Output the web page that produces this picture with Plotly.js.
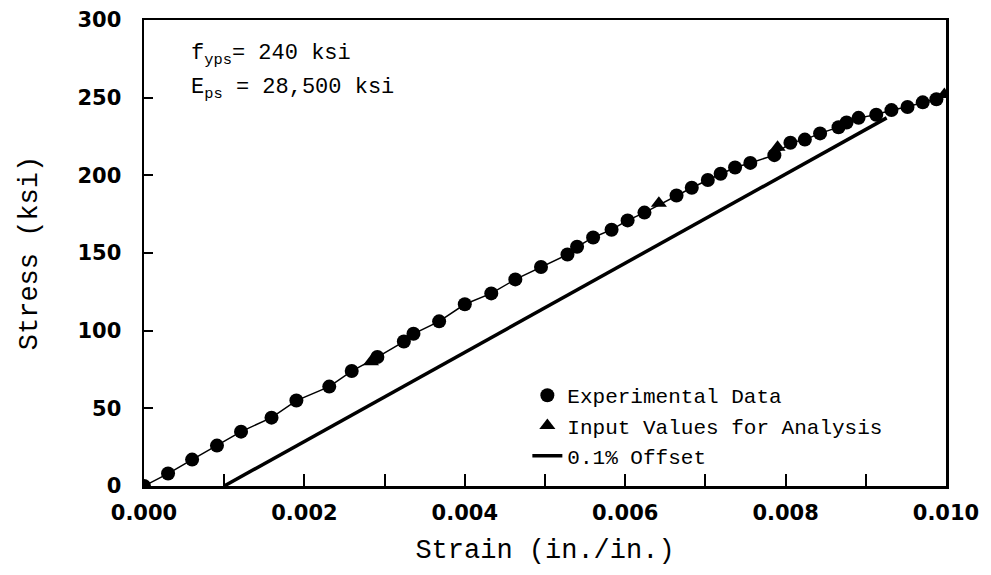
<!DOCTYPE html>
<html>
<head>
<meta charset="utf-8">
<script src="https://cdn.plot.ly/plotly-3.0.1.min.js"></script>
<style>html,body{margin:0;padding:0;background:#fff;}#chart{width:991px;height:575px;}</style>
</head>
<body>
<div id="chart"></div>
<script>
// Experimental data (strain in./in., stress ksi)
var expStrain = [0.0000, 0.00030, 0.00060, 0.00091, 0.00121, 0.00159, 0.00190, 0.00231, 0.00259, 0.00291,
  0.00324, 0.00336, 0.00368, 0.00400, 0.00433, 0.00463, 0.00495, 0.00528, 0.00540, 0.00560,
  0.00583, 0.00603, 0.00624, 0.00664, 0.00683, 0.00703, 0.00719, 0.00737, 0.00756, 0.00786,
  0.00806, 0.00824, 0.00843, 0.00866, 0.00876, 0.00891, 0.00913, 0.00932, 0.00952, 0.00971, 0.00988];
var expStress = [0, 8, 17, 26, 35, 44, 55, 64, 74, 83,
  93, 98, 106, 117, 124, 133, 141, 149, 154, 160,
  165, 171, 176, 187, 192, 197, 201, 205, 208, 213,
  221, 223, 227, 231, 234, 237, 239, 242, 244, 247, 249];
// Input values for analysis
var inputStrain = [0.00283, 0.00642, 0.00790, 0.00998];
var inputStress = [80, 182, 218, 252];
// 0.1% offset line
var offsetStrain = [0.0010, 0.00926];
var offsetStress = [0, 237];

var xTickVals = [0, 0.001, 0.002, 0.003, 0.004, 0.005, 0.006, 0.007, 0.008, 0.009, 0.010];
var xTickText = ['0.000', '', '0.002', '', '0.004', '', '0.006', '', '0.008', '', '0.010'];
var yTickVals = [0, 50, 100, 150, 200, 250, 300];

var textFont = 'Liberation Mono';
var tickFont = {family: 'DejaVu Sans', size: 21, color: '#000', weight: 'bold'};

var traces = [
  {x: expStrain, y: expStress, type: 'scatter', mode: 'lines', name: 'connect', showlegend: false,
   line: {color: '#000', width: 1.5}},
  {x: expStrain, y: expStress, type: 'scatter', mode: 'markers', name: 'Experimental Data',
   marker: {symbol: 'circle', size: 14, color: '#000'}},
  {x: inputStrain, y: inputStress, type: 'scatter', mode: 'markers', name: 'Input Values for Analysis',
   marker: {symbol: 'triangle-up', size: 14, color: '#000'}},
  {x: offsetStrain, y: offsetStress, type: 'scatter', mode: 'lines', name: '0.1% Offset',
   line: {color: '#000', width: 3.5}}
];

var layout = {
  width: 991, height: 575,
  margin: {l: 144, r: 45, t: 20, b: 89},
  showlegend: true,
  legend: {x: 0.478, y: 0.238, xanchor: 'left', yanchor: 'top', bgcolor: 'rgba(0,0,0,0)',
    font: {family: textFont, size: 21, color: '#000'}},
  xaxis: {
    range: [0, 0.010], tickmode: 'array', tickvals: xTickVals, ticktext: xTickText,
    ticks: 'inside', ticklen: 12, tickwidth: 2, tickcolor: '#000', layer: 'above traces',
    showline: true, linecolor: '#000', linewidth: 2.5, mirror: true,
    showgrid: false, zeroline: false, tickfont: tickFont, ticklabelstandoff: 6,
    title: {text: 'Strain (in./in.)', font: {family: textFont, size: 27, color: '#000'}, standoff: 16}
  },
  yaxis: {
    range: [0, 300], tickmode: 'array', tickvals: yTickVals,
    ticks: 'inside', ticklen: 9, tickwidth: 2, tickcolor: '#000', layer: 'above traces',
    showline: true, linecolor: '#000', linewidth: 2.5, mirror: true,
    showgrid: false, zeroline: false, tickfont: tickFont, ticklabelstandoff: 16,
    title: {text: 'Stress (ksi)', font: {family: textFont, size: 27, color: '#000'}, standoff: 32}
  },
  annotations: [
    {xref: 'paper', yref: 'paper', x: 0.056, y: 0.925, xanchor: 'left', yanchor: 'middle', showarrow: false,
     text: 'f<sub>yps</sub>= 240 ksi', font: {family: textFont, size: 22, color: '#000'}},
    {xref: 'paper', yref: 'paper', x: 0.056, y: 0.853, xanchor: 'left', yanchor: 'middle', showarrow: false,
     text: 'E<sub>ps</sub> = 28,500 ksi', font: {family: textFont, size: 22, color: '#000'}}
  ]
};

Plotly.newPlot('chart', traces, layout, {displayModeBar: false, staticPlot: true});
</script>
</body>
</html>
